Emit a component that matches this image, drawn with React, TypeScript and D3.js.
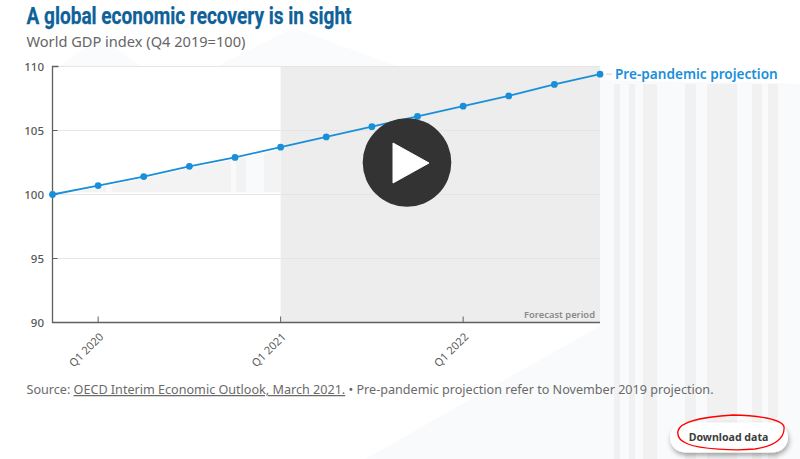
import React from 'react';
import * as d3 from 'd3';

const quarters = ['Q4 2019', 'Q1 2020', 'Q2 2020', 'Q3 2020', 'Q4 2020', 'Q1 2021', 'Q2 2021', 'Q3 2021', 'Q4 2021', 'Q1 2022', 'Q2 2022', 'Q3 2022', 'Q4 2022'];
const projection = [100, 100.7, 101.4, 102.2, 102.9, 103.7, 104.5, 105.3, 106.1, 106.9, 107.7, 108.6, 109.4];
const yTicks = [90, 95, 100, 105, 110];
const xTicks = ['Q1 2020', 'Q1 2021', 'Q1 2022'];
const forecastStart = 'Q1 2021';
const underLineShade = ['Q4 2019', 'Q1 2020', 'Q2 2020', 'Q3 2020', 'Q4 2020', 'Q1 2021'];

const width = 800;
const height = 459;
const m = { left: 52.5, right: 600, top: 66.5, bottom: 322.5 };

// backdrop stripes on the right and the gaps showing through the plot (x, width)
const stripes = [[614, 6], [629, 6], [643, 14], [685, 11], [707, 30], [752, 10], [768, 10]];
const plotGaps = [[106, 6], [231, 5], [246, 18]];

const App: React.FC = () => {
  const x = d3.scalePoint<string>().domain(quarters).range([m.left, m.right]);
  const y = d3.scaleLinear().domain([90, 110]).range([m.bottom, m.top]);

  const line = d3.line<number>()
    .x((_, i) => x(quarters[i])!)
    .y(d => y(d));

  const area = d3.area<string>()
    .x(d => x(d)!)
    .y0(y(100) - 2)
    .y1(d => y(projection[quarters.indexOf(d)]) + 2);

  const font = "'Noto Sans', 'Open Sans', sans-serif";

  return (
    <svg width={width} height={height} viewBox={`0 0 ${width} ${height}`}
      style={{ position: 'fixed', left: 0, top: 0, display: 'block', background: '#fff' }}>
      <defs>
        <filter id="btnShadow" x="-20%" y="-40%" width="140%" height="190%">
          <feDropShadow dx="1" dy="3" stdDeviation="2.5" floodColor="#000" floodOpacity="0.35" />
        </filter>
        <clipPath id="shadeClip">
          <path d={area(underLineShade) ?? ''} />
        </clipPath>
      </defs>

      {/* faint backdrop */}
      <path d="M60,66 L100,37 L140,66 Z" fill="#fafbfc" />
      <path d="M217,66 L293,28 L397,66 Z" fill="#fafbfc" />
      <path d="M600,326 L365,459 L800,459 L800,84 L745,82 L690,82 L600,80 Z" fill="#f9fafb" />
      {stripes.map(([sx, sw]) => (
        <rect key={sx} x={sx} y={84} width={sw} height={375} fill="#f1f1f2" />
      ))}

      {/* plot background */}
      <rect x={m.left} y={m.top} width={x(forecastStart)! - m.left} height={m.bottom - m.top} fill="#fff" />
      <rect x={x(forecastStart)} y={m.top} width={m.right - x(forecastStart)!} height={m.bottom - m.top} fill="#ededed" />
      <path d={area(underLineShade) ?? ''} fill="#f3f3f3" />
      <g clipPath="url(#shadeClip)">
        {plotGaps.map(([gx, gw]) => (
          <rect key={gx} x={gx} y={y(105)} width={gw} height={y(100) - y(105)} fill="#f9fafb" />
        ))}
      </g>

      {yTicks.map(t => (
        <line key={t} x1={m.left} x2={m.right} y1={y(t)} y2={y(t)} stroke="#e5e5e5" strokeWidth={1} />
      ))}

      {/* axes */}
      <path d={`M${m.left + 6},${y(110)}H${m.left}V${y(90)}H${m.right}`} fill="none" stroke="#5f5f5f" strokeWidth={1.3} />
      {yTicks.filter(t => t !== 90 && t !== 110).map(t => (
        <line key={t} x1={m.left} x2={m.left + 5} y1={y(t)} y2={y(t)} stroke="#5f5f5f" strokeWidth={1} />
      ))}
      {xTicks.map(t => (
        <line key={t} x1={x(t)} x2={x(t)} y1={y(90) - 6} y2={y(90)} stroke="#5f5f5f" strokeWidth={1} />
      ))}
      {yTicks.map(t => (
        <text key={t} x={44} y={y(t) + 4} textAnchor="end" fontFamily={font} fontSize={11.5} fontWeight={500} fill="#595959">{t}</text>
      ))}
      {xTicks.map(t => (
        <text key={t} transform={`translate(${x(t)! + 6},${y(90) + 15}) rotate(-45)`} textAnchor="end"
          fontFamily={font} fontSize={11} fill="#595959">{t}</text>
      ))}

      {/* series */}
      <path d={line(projection) ?? ''} fill="none" stroke="#1a8fd9" strokeWidth={1.8} />
      {projection.map((d, i) => (
        <circle key={quarters[i]} cx={x(quarters[i])} cy={y(d)} r={3.4} fill="#1a8fd9" />
      ))}
      <line x1={606} x2={612} y1={y(projection[12])} y2={y(projection[12])} stroke="#d5d5d5" strokeWidth={1} />
      <text x={615} y={y(projection[12]) + 5} fontFamily={font} fontSize={13.6} fontWeight={600} fill="#1a8fd9">Pre-pandemic projection</text>

      <text x={595} y={318} textAnchor="end" fontFamily={font} fontSize={9.4} fontWeight={600} fill="#8a8a8a">Forecast period</text>

      {/* titles */}
      <text x={26.5} y={24} textLength={325} lengthAdjust="spacingAndGlyphs" fontFamily="Roboto, sans-serif" fontSize={24.5} fontWeight={700} fill="#0f6199" stroke="#0f6199" strokeWidth={0.25}>A global economic recovery is in sight</text>
      <text x={26.5} y={46.5} fontFamily={font} fontSize={14.6} fill="#666">World GDP index (Q4 2019=100)</text>

      {/* source */}
      <text x={26.5} y={394} fontFamily={font} fontSize={12.6} fill="#6a6a6a">
        Source: <tspan textDecoration="underline">OECD Interim Economic Outlook, March 2021.</tspan> • Pre-pandemic projection refer to November 2019 projection.
      </text>

      {/* play button */}
      <circle cx={407} cy={162.5} r={44.3} fill="#333" />
      <path d="M393,143 L429,163 L393,183 Z" fill="#fff" stroke="#fff" strokeWidth={1} strokeLinejoin="round" />

      {/* download button */}
      <rect x={670} y={422.5} width={118} height={30} rx={15} fill="#fff" filter="url(#btnShadow)" />
      <text x={728.5} y={441} textAnchor="middle" fontFamily={font} fontSize={10.6} fontWeight={700} fill="#3d3d3d">Download data</text>
      <path d="M678,431 C680,422 700,417 733,415 C755,415 783,419 784,427 C785,438 775,446 755,449 C735,451 700,449 688,444 C680,441 677,436 678,431 Z"
        fill="none" stroke="#f00" strokeWidth={1.3} />
    </svg>
  );
};

export default App;
